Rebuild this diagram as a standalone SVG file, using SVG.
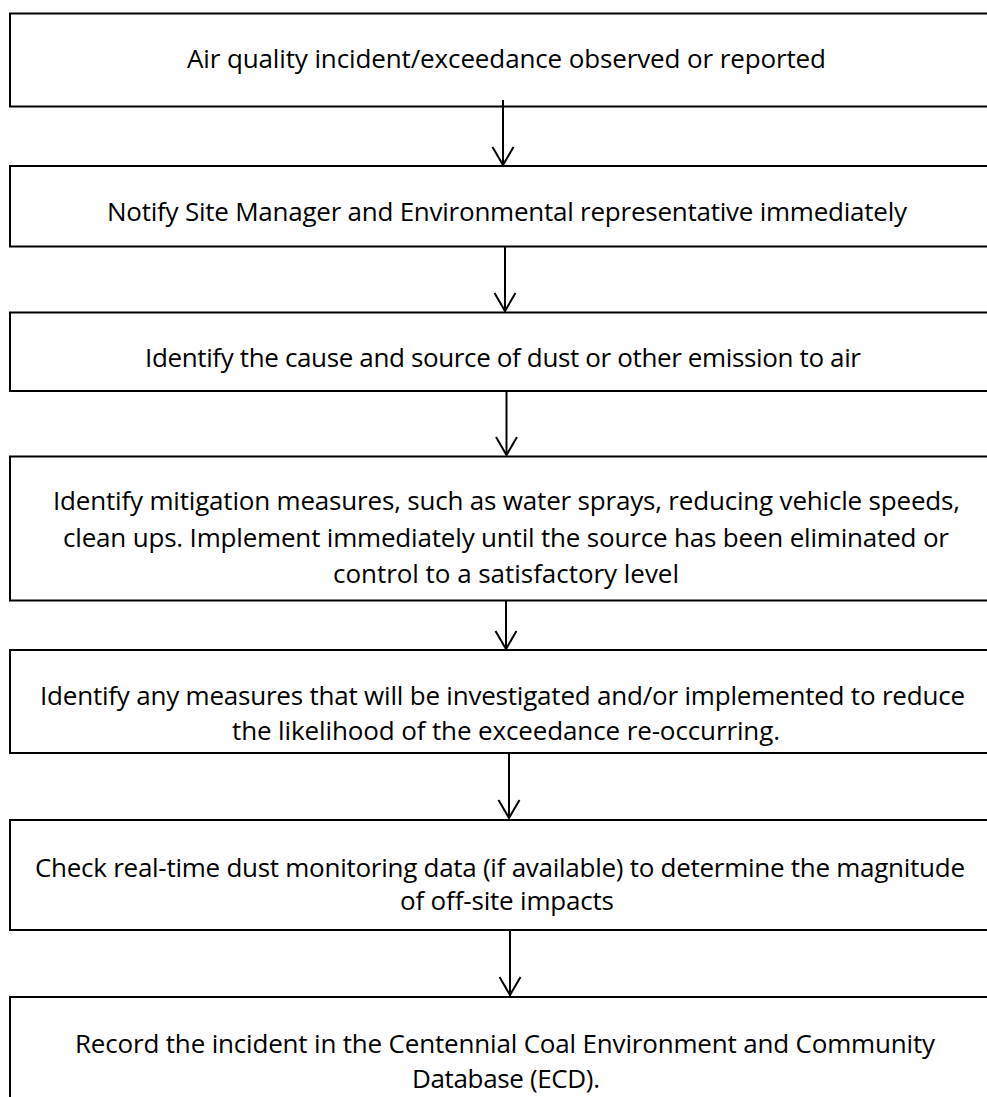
<svg xmlns="http://www.w3.org/2000/svg" width="987" height="1097" viewBox="0 0 987 1097">
<defs>
<style>
.box{fill:#fff;stroke:#000;stroke-width:2}
.t{font-family:"Open Sans","Noto Sans","Liberation Sans",sans-serif;font-size:26px;fill:#000;text-anchor:middle}
.ln{stroke:#000;stroke-width:2;fill:none}
.hd{stroke:#000;stroke-width:2;fill:none;stroke-linejoin:miter}
</style>
</defs>
<rect width="987" height="1097" fill="#fff"/>
<g id="n1"><rect class="box" x="10" y="13.5" width="1000" height="93"/>
<text class="t" x="506.5" y="68" textLength="639">Air quality incident/exceedance observed or reported</text></g>
<g id="n2"><rect class="box" x="10" y="166" width="1000" height="80.5"/>
<text class="t" x="507" y="221" textLength="800">Notify Site Manager and Environmental representative immediately</text></g>
<g id="n3"><rect class="box" x="10" y="312.5" width="1000" height="78.5"/>
<text class="t" x="503" y="366.5" textLength="716">Identify the cause and source of dust or other emission to air</text></g>
<g id="n4"><rect class="box" x="10" y="456.5" width="1000" height="144"/>
<text class="t" x="506.5" y="510" textLength="907">Identify mitigation measures, such as water sprays, reducing vehicle speeds,</text>
<text class="t" x="506" y="547" textLength="886">clean ups. Implement immediately until the source has been eliminated or</text>
<text class="t" x="506" y="583" textLength="346">control to a satisfactory level</text></g>
<g id="n5"><rect class="box" x="10" y="650" width="1000" height="103"/>
<text class="t" x="502.5" y="705" textLength="925">Identify any measures that will be investigated and/or implemented to reduce</text>
<text class="t" x="506" y="740" textLength="548">the likelihood of the exceedance re-occurring.</text></g>
<g id="n6"><rect class="box" x="10" y="820" width="1000" height="110"/>
<text class="t" x="500" y="876.5" textLength="930">Check real-time dust monitoring data (if available) to determine the magnitude</text>
<text class="t" x="507" y="910" textLength="214">of off-site impacts</text></g>
<g id="n7"><rect class="box" x="10" y="997" width="1000" height="140"/>
<text class="t" x="505" y="1053" textLength="860">Record the incident in the Centennial Coal Environment and Community</text>
<text class="t" x="506" y="1088" textLength="188">Database (ECD).</text></g>
<g id="connectors">
<path class="ln" d="M503 100V165"/><path class="hd" d="M492.5 147L503 165L513.5 147"/>
<path class="ln" d="M505 247V311"/><path class="hd" d="M494.5 293L505 311L515.5 293"/>
<path class="ln" d="M506.5 391V455"/><path class="hd" d="M496 437L506.5 455L517 437"/>
<path class="ln" d="M506 601V649"/><path class="hd" d="M495.5 631L506 649L516.5 631"/>
<path class="ln" d="M509 753V818"/><path class="hd" d="M498.5 800L509 818L519.5 800"/>
<path class="ln" d="M510 930V995"/><path class="hd" d="M499.5 977L510 995L520.5 977"/>
</g>
</svg>
